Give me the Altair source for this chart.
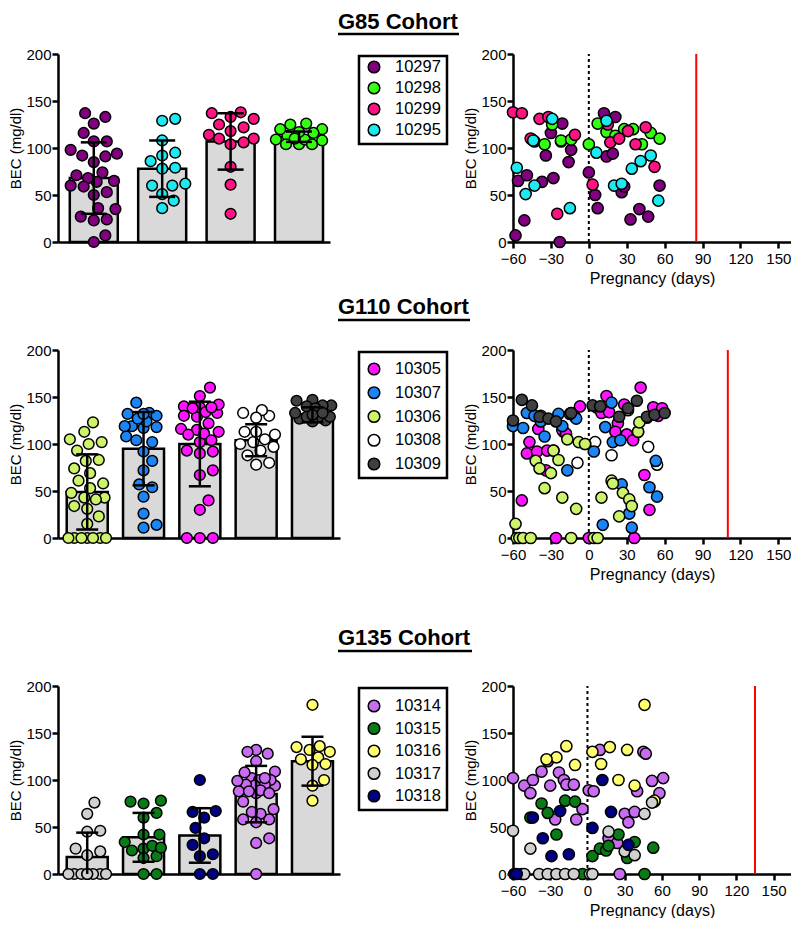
import altair as alt
import pandas as pd

# ---------------- shared values ----------------
cohort_titles = ["G85 Cohort", "G110 Cohort", "G135 Cohort"]
pregnancy_end = [85, 110, 135]
day_ticks = [-60, -30, 0, 30, 60, 90, 120, 150]
bec_ticks = [0, 50, 100, 150, 200]

# ---------------- G85 cohort ----------------
g85_ids = ["10297", "10298", "10299", "10295"]
g85_colors = ["#800080", "#33ff11", "#ff1281", "#1ee9f0"]
g85_bar_ids = ["10297", "10295", "10299", "10298"]
g85_bar_mean = [68, 78, 107, 112]
g85_bar_sd = [38, 30, 30, 5.5]

day_10297 = [-58, -51, -56, -49, -37, -28, -43, -34, -30, -21, -22, -14, -16, -23, 0, 5, 7, 12, 21, 14, 19, 26, 28, 33, 40, 47, 56]
bec_10297 = [7, 23, 65, 71, 64, 68, 107, 92, 116, 126, 107, 98, 85, 0, 74, 50, 36, 137, 133, 91, 94, 53, 59, 24, 35, 27, 60]
day_10298 = [-35, -29, -22, -14, -45, 0, 7, 14, 21, 28, 35, 42, 49, 56]
bec_10298 = [104, 125, 108, 109, 109, 104, 126, 117, 113, 120, 120, 104, 116, 110]
day_10299 = [-60, -53, -39, -32, -46, -11, -25, 3, 15, 17, 24, 31, 37, 45, 52]
bec_10299 = [138, 137, 131, 133, 110, 114, 30, 61, 125, 106, 110, 118, 104, 122, 80]
day_10295 = [-57, -50, -43, -15, -29, 6, 14, 20, 26, 34, 41, 49, 55, -44]
bec_10295 = [79, 51, 60, 36, 131, 95, 129, 60, 62, 78, 86, 92, 44, 108]

# ---------------- G110 cohort ----------------
g110_ids = ["10305", "10307", "10306", "10308", "10309"]
g110_colors = ["#ff14ff", "#1b85f5", "#cdf36b", "#ffffff", "#404040"]
g110_bar_ids = ["10306", "10307", "10305", "10308", "10309"]
g110_bar_mean = [49, 95, 100, 104, 131]
g110_bar_sd = [40, 39, 45, 17, 8]

day_10305 = [-53, -47, -49, -41, -40, -33, -34, -21, -18, -11, -7, -26, 0, 6, 10, 14, 16, 23, 21, 28, 30, 35, 36, 41, 44, 48, 51, 55, 58]
bec_10305 = [40, 102, 90, 92, 116, 93, 72, 115, 111, 129, 140, 0, 0, 139, 133, 151, 134, 122, 113, 142, 110, 104, 0, 160, 67, 30, 139, 130, 138]
day_10307 = [-60, -52, -49, -43, -38, -35, -24, -21, -17, -10, 4, 11, 13, 18, 19, 25, 26, 32, 34, 48, 53, 54, -15]
bec_10307 = [119, 117, 133, 130, 124, 108, 132, 119, 72, 127, 92, 14, 118, 144, 102, 104, 57, 26, 11, 54, 82, 44, 132]
day_10306 = [-58, -57, -55, -52, -46, -14, 4, 7, -42, -39, -30, -28, -35, -24, -21, -17, -10, -8, -3, 10, 18, 19, 24, 27, 32, 34, 39, 40]
bec_10306 = [15, 0, 0, 0, 0, 0, 0, 0, 82, 74, 69, 93, 53, 83, 43, 105, 31, 102, 100, 43, 61, 58, 23, 48, 41, 34, 113, 123]
day_10308 = [5, -9, 18, 47, 54, -38, -14, 31, 46, -20, 30, 39, 35, -3, -28]
bec_10308 = [102, 80, 88, 97, 78, 130, 133, 136, 128, 113, 110, 113, 105, 100, 93]
day_10309 = [-60, -53, -45, -39, -32, -26, -14, 3, 9, 24, 31, 38, 46, 52, 60]
bec_10309 = [125, 147, 141, 129, 127, 124, 133, 141, 140, 129, 138, 146, 129, 131, 133]

# ---------------- G135 cohort ----------------
g135_ids = ["10314", "10315", "10316", "10317", "10318"]
g135_colors = ["#c86cf2", "#0a7a16", "#ffff70", "#d0d0d0", "#000080"]
g135_bar_ids = ["10317", "10315", "10318", "10314", "10316"]
g135_bar_mean = [18, 39, 41, 85, 120]
g135_bar_sd = [26, 26, 29, 30, 26]

day_10314 = [-60, -51, -46, -44, -37, -32, -30, -23, -19, -17, -11, -26, -9, -4, 1, 5, 10, 26, 17, 24, 30, 33, 38, 40, 45, 47, 52, 54, 58, 61]
bec_10314 = [102, 94, 86, 100, 109, 120, 94, 108, 100, 95, 95, 58, 58, 69, 89, 88, 132, 0, 38, 33, 64, 55, 66, 88, 130, 128, 99, 77, 86, 102]
day_10315 = [-37, -46, -32, -25, -18, -10, -4, 4, 10, 15, 17, 25, 32, 38, 46, 53]
bec_10315 = [75, 60, 65, 42, 78, 77, 0, 19, 27, 25, 30, 42, 17, 34, 0, 28]
day_10316 = [-17, -25, -33, -10, 4, 18, 11, 32, 25, 38, 46, 54]
bec_10316 = [136, 124, 122, 116, 130, 135, 117, 132, 100, 94, 180, 78]
day_10317 = [-60, -46, -53, -51, -39, -32, -25, -18, -11, 2, 4, 17, 30, 38, 46, 52]
bec_10317 = [46, 27, 0, 0, 0, 0, 0, 0, 0, 0, 0, 45, 24, 20, 64, 76]
day_10318 = [-59, -57, -36, -29, -22, -15, -44, 4, 12, 19, 33]
bec_10318 = [0, 0, 38, 19, 67, 21, 60, 49, 100, 66, 31]

animal_days = {
    "10297": day_10297, "10298": day_10298, "10299": day_10299, "10295": day_10295,
    "10305": day_10305, "10307": day_10307, "10306": day_10306, "10308": day_10308, "10309": day_10309,
    "10314": day_10314, "10315": day_10315, "10316": day_10316, "10317": day_10317, "10318": day_10318,
}
animal_bec = {
    "10297": bec_10297, "10298": bec_10298, "10299": bec_10299, "10295": bec_10295,
    "10305": bec_10305, "10307": bec_10307, "10306": bec_10306, "10308": bec_10308, "10309": bec_10309,
    "10314": bec_10314, "10315": bec_10315, "10316": bec_10316, "10317": bec_10317, "10318": bec_10318,
}

# ---------------- layout / style ----------------
PLOT_H = 188
BLACK = "black"
BAR_FILL = "#d9d9d9"
left_domains = [[-0.45, 3.38], [-0.43, 4.4], [-0.43, 4.4]]
left_widths = [272, 282, 282]
bar_widths = [48, 41, 41]
cap_widths = [26, 22, 22]
title_x = 280
title_base = [-25, -36, -41]
underline_y = [-20, -30, -35]
underline_w = [121, 132, 134]
legend_first = [13, 19, 20]
legend_step = [21, 23.75, 22.5]
legend_heights = [188, 228, 188]
right_width = 278
right_domains = [[-60, 160], [-60, 160], [-60, 164]]
draw_orders = [g85_ids, ["10308", "10305", "10307", "10306", "10309"], g135_ids]


def swarm(vals, ypx, diam, lim):
    """Deterministic beeswarm offsets (pixels) for a column of points."""
    order = sorted(range(len(vals)), key=lambda i: vals[i])
    placed = []
    off = [0.0] * len(vals)
    cands = [0.0]
    k = 1
    while k * 1.5 <= lim:
        cands += [k * 1.5, -k * 1.5]
        k += 1
    for i in order:
        y = vals[i] * ypx
        chosen = None
        for f in [1.0, 0.85, 0.7, 0.55, 0.4, 0.25, 0.0]:
            thr = (diam * f) ** 2
            for c in cands:
                if all((c - px) ** 2 + (y - py) ** 2 >= thr for px, py in placed):
                    chosen = c
                    break
            if chosen is not None:
                break
        off[i] = chosen
        placed.append((chosen, y))
    return off


def y_enc(field):
    return alt.Y(field, scale=alt.Scale(domain=[0, 200], nice=False),
                 axis=alt.Axis(values=bec_ticks, title="BEC (mg/dl)"))


def left_chart(r, ids, colors, bar_ids, means, sds):
    dom = left_domains[r]
    w = left_widths[r]
    pxu = w / (dom[1] - dom[0])
    n = len(bar_ids)
    bars = pd.DataFrame({
        "animal": bar_ids, "idx": list(range(n)), "mean": means,
        "lo": [max(m - s, 0) for m, s in zip(means, sds)],
        "hi": [m + s for m, s in zip(means, sds)],
    })
    low_caps = bars[[m - s > 0 for m, s in zip(means, sds)]]
    rows = []
    for k, a in enumerate(bar_ids):
        vals = animal_bec[a]
        offs = swarm(vals, PLOT_H / 200.0, 13, bar_widths[r] / 2.0)
        for v, o in zip(vals, offs):
            rows.append({"animal": a, "xj": k + o / pxu, "bec": v})
    pts = pd.DataFrame(rows)
    xs = alt.Scale(domain=dom, nice=False, zero=False)
    xax = alt.Axis(labels=False, ticks=False, title=None, grid=False)
    cscale = alt.Scale(domain=ids, range=colors)

    bar = alt.Chart(bars).mark_bar(size=bar_widths[r], fill=BAR_FILL, stroke=BLACK, strokeWidth=2.5).encode(
        x=alt.X("idx:Q", scale=xs, axis=xax), y=y_enc("mean:Q"))
    dots = alt.Chart(pts).mark_circle(size=115, stroke=BLACK, strokeWidth=1.5, opacity=1).encode(
        x=alt.X("xj:Q", scale=xs, axis=xax), y=y_enc("bec:Q"),
        color=alt.Color("animal:N", scale=cscale, legend=None))
    err = alt.Chart(bars).mark_rule(color=BLACK, strokeWidth=2.5).encode(
        x=alt.X("idx:Q", scale=xs, axis=xax), y=y_enc("lo:Q"), y2="hi:Q")
    cap_hi = alt.Chart(bars).mark_tick(orient="horizontal", size=cap_widths[r], thickness=2.5, color=BLACK, opacity=1).encode(
        x=alt.X("idx:Q", scale=xs, axis=xax), y=y_enc("hi:Q"))
    cap_lo = alt.Chart(low_caps).mark_tick(orient="horizontal", size=cap_widths[r], thickness=2.5, color=BLACK, opacity=1).encode(
        x=alt.X("idx:Q", scale=xs, axis=xax), y=y_enc("lo:Q"))
    tdf = pd.DataFrame({"t": [cohort_titles[r]]})
    title = alt.Chart(tdf).mark_text(align="left", baseline="alphabetic", fontSize=22, fontWeight="bold", color=BLACK).encode(
        x=alt.value(title_x), y=alt.value(title_base[r]), text="t:N")
    uline = alt.Chart(tdf).mark_rule(color=BLACK, strokeWidth=2.5).encode(
        x=alt.value(title_x), x2=alt.value(title_x + underline_w[r]), y=alt.value(underline_y[r]))
    return alt.layer(bar, dots, err, cap_hi, cap_lo, title, uline).properties(width=w, height=PLOT_H)


def legend_chart(r, ids, colors):
    n = len(ids)
    first = legend_first[r]
    last = first + legend_step[r] * (n - 1)
    ldf = pd.DataFrame({"animal": ids})
    ys = alt.Y("animal:N", sort=ids, axis=None, scale=alt.Scale(range=[first, last], padding=0))
    cscale = alt.Scale(domain=ids, range=colors)
    sym = alt.Chart(ldf).mark_circle(size=135, stroke=BLACK, strokeWidth=1.5, opacity=1).encode(
        x=alt.value(24), y=ys, color=alt.Color("animal:N", scale=cscale, legend=None))
    txt = alt.Chart(ldf).mark_text(align="left", baseline="middle", fontSize=16.5, color=BLACK).encode(
        x=alt.value(45), y=ys, text="animal:N")
    box = alt.Chart(pd.DataFrame({"b": [0]})).mark_rect(fillOpacity=0, stroke=BLACK, strokeWidth=2.5).encode(
        x=alt.value(9), x2=alt.value(97), y=alt.value(2), y2=alt.value(last + 14))
    return alt.layer(box, sym, txt).properties(width=153, height=legend_heights[r])


def right_chart(r, ids, colors):
    rows = []
    for a in draw_orders[r]:
        for d, v in zip(animal_days[a], animal_bec[a]):
            rows.append({"animal": a, "day": d, "bec": v})
    pts = pd.DataFrame(rows)
    xs = alt.Scale(domain=right_domains[r], nice=False, zero=False)
    xax = alt.Axis(values=day_ticks, title="Pregnancy (days)", labelFlush=False, labelOverlap=False,
                   grid=False, labelPadding=3, titleFontSize=16)
    cscale = alt.Scale(domain=ids, range=colors)
    marks = pd.DataFrame({"day": [0, pregnancy_end[r]], "y0": [0, 0], "y1": [200, 200]})
    conc = alt.Chart(marks.iloc[[0]]).mark_rule(color=BLACK, strokeWidth=2, strokeDash=[3, 3]).encode(
        x=alt.X("day:Q", scale=xs, axis=xax), y=y_enc("y0:Q"), y2="y1:Q")
    birth = alt.Chart(marks.iloc[[1]]).mark_rule(color="#ff0000", strokeWidth=2).encode(
        x=alt.X("day:Q", scale=xs, axis=xax), y=y_enc("y0:Q"), y2="y1:Q")
    dots = alt.Chart(pts).mark_circle(size=125, stroke=BLACK, strokeWidth=1.5, opacity=1).encode(
        x=alt.X("day:Q", scale=xs, axis=xax), y=y_enc("bec:Q"),
        color=alt.Color("animal:N", scale=cscale, legend=None))
    return alt.layer(conc, birth, dots).properties(width=right_width, height=PLOT_H)


cohorts = [
    (g85_ids, g85_colors, g85_bar_ids, g85_bar_mean, g85_bar_sd),
    (g110_ids, g110_colors, g110_bar_ids, g110_bar_mean, g110_bar_sd),
    (g135_ids, g135_colors, g135_bar_ids, g135_bar_mean, g135_bar_sd),
]

panels = []
for r, (ids, cols, bids, mns, sds) in enumerate(cohorts):
    panels.append(left_chart(r, ids, cols, bids, mns, sds))
    panels.append(legend_chart(r, ids, cols))
    panels.append(right_chart(r, ids, cols))

chart = alt.concat(
    *panels, columns=3, spacing={"row": 108, "column": 10}, bounds="flush", align="each",
    padding={"top": 3, "left": 0, "right": 0, "bottom": 0}
).resolve_scale(color="independent").configure(font="Liberation Sans").configure_view(strokeWidth=0).configure_axis(
    domainColor=BLACK, domainWidth=2.5, tickColor=BLACK, tickWidth=2.5, tickSize=6,
    labelColor=BLACK, labelFontSize=15, labelPadding=1, titleColor=BLACK, titleFontSize=15,
    titleFontWeight="normal", grid=False
).configure_axisY(titlePadding=2).configure_axisX(titlePadding=4)

chart.save("out.html", embed_options={"renderer": "svg", "actions": False})
